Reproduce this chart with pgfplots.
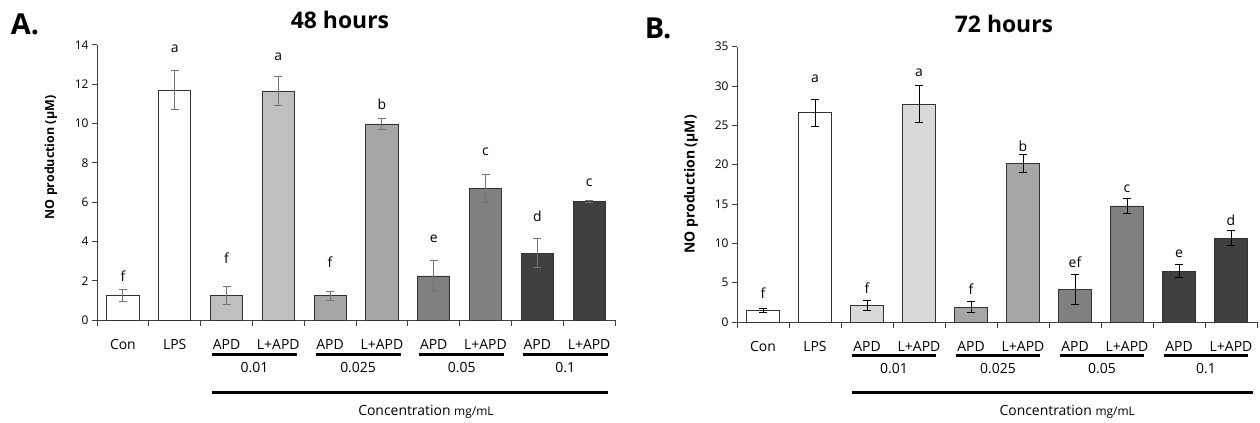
\documentclass[border=0pt]{standalone}
\usepackage{fontspec}
\setmainfont{Open Sans}
\usepackage{pgfplots}
\usepackage{pgfplotstable}
\pgfplotsset{compat=1.18}

\definecolor{gA}{HTML}{BFBFBF}
\definecolor{gAr}{HTML}{D9D9D9}
\definecolor{gB}{HTML}{A6A6A6}
\definecolor{gC}{HTML}{808080}
\definecolor{gD}{HTML}{404040}
\definecolor{edge}{HTML}{333333}

% x: 0 Con, 1 LPS, then APD / L+APD for 0.01, 0.025, 0.05, 0.1
\pgfplotstableread{
x y e ly lab
0 1.24 0.31 2.24 f
1 11.71 0.98 13.80 a
2 1.24 0.45 3.16 f
3 11.66 0.73 13.40 a
4 1.24 0.23 2.95 f
5 9.98 0.29 11.00 b
6 2.24 0.78 4.12 e
7 6.69 0.73 8.55 c
8 3.41 0.73 5.30 d
9 6.02 0.05 6.98 c
}\hfortyeight

\pgfplotstableread{
x y e ly lab
0 1.44 0.28 3.72 f
1 26.60 1.70 30.90 a
2 2.08 0.63 4.28 f
3 27.70 2.35 31.70 a
4 1.90 0.65 4.15 f
5 20.10 1.15 22.40 b
6 4.15 1.90 7.54 ef
7 14.75 0.95 17.00 c
8 6.48 0.87 8.73 e
9 10.64 0.97 12.88 d
}\hseventytwo

\pgfplotsset{
  panel/.style={
    scale only axis, anchor=south west, clip=false,
    xmin=-0.5, xmax=9.5, ymin=0,
    axis x line*=bottom, axis y line*=left,
    axis line style={-, black!75, line width=1bp},
    xtick={0,...,9},
    xticklabels={Con,LPS,APD,L+APD,APD,L+APD,APD,L+APD,APD,L+APD},
    major x tick style={draw=none},
    minor xtick={-0.5,0.5,...,9.5},
    minor x tick style={black!75, line width=1bp},
    minor tick length=6bp,
    major tick length=5bp,
    tick align=outside,
    y tick style={black!75, line width=1bp},
    xticklabel style={font=\fontsize{14}{16}\selectfont, anchor=center, yshift=-20bp},
    yticklabel style={font=\fontsize{12}{14}\selectfont},
    /pgf/number format/assume math mode=true,
    ylabel={NO production (μM)},
  },
  bars/.style 2 args={ybar, bar width=0.62, bar shift=0pt, draw=edge, line width=0.9bp, fill=#1,
    error bars/.cd, y dir=both, y explicit,
    error bar style={#2, line width=1bp},
    error mark options={rotate=90, mark size=4bp, #2, line width=1bp}},
  letters/.style={draw=none, mark=none, nodes near coords, point meta=explicit symbolic,
    nodes near coords align=center,
    nodes near coords style={anchor=center, font=\fontsize{14}{16}\selectfont}},
}

\begin{document}
\begin{tikzpicture}
\useasboundingbox (0,0) rectangle (1260bp,423bp);

\node[font=\bfseries\fontsize{29}{31}\selectfont] at (25bp,399bp) {A.};
\node[font=\bfseries\fontsize{23}{26}\selectfont] at (340bp,403bp) {48 hours};
\node[font=\bfseries\fontsize{29}{31}\selectfont] at (658bp,395bp) {B.};
\node[font=\bfseries\fontsize{23}{26}\selectfont] at (1004bp,399bp) {72 hours};

% ---------- A. 48 hours
\begin{axis}[panel, at={(97bp,103bp)}, width=518bp, height=275bp,
  ymax=14, ytick={0,2,...,14},
  every axis y label/.style={at={(axis description cs:0,0.5)}, xshift=-46bp, yshift=25bp,
    rotate=90, anchor=center, font=\bfseries\fontsize{12.5}{14}\selectfont}]
\addplot[bars={white}{black!55}] table[x=x, y=y, y error=e, restrict x to domain=0:1] {\hfortyeight};
\addplot[bars={gA}{black!55}] table[x=x, y=y, y error=e, restrict x to domain=2:3] {\hfortyeight};
\addplot[bars={gB}{black!55}] table[x=x, y=y, y error=e, restrict x to domain=4:5] {\hfortyeight};
\addplot[bars={gC}{black!55}] table[x=x, y=y, y error=e, restrict x to domain=6:7] {\hfortyeight};
\addplot[bars={gD}{black!55}] table[x=x, y=y, y error=e, restrict x to domain=8:9] {\hfortyeight};
\addplot[letters] table[x=x, y=ly, meta=lab] {\hfortyeight};
\draw[line width=3bp] ([yshift=-34bp]axis cs:1.72,0) -- ([yshift=-34bp]axis cs:3.36,0);
\draw[line width=3bp] ([yshift=-34bp]axis cs:3.72,0) -- ([yshift=-34bp]axis cs:5.36,0);
\draw[line width=3bp] ([yshift=-34bp]axis cs:5.72,0) -- ([yshift=-34bp]axis cs:7.36,0);
\draw[line width=3bp] ([yshift=-34bp]axis cs:7.72,0) -- ([yshift=-34bp]axis cs:9.36,0);
\node[font=\fontsize{14}{16}\selectfont] at ([yshift=-48bp]axis cs:2.54,0) {0.01};
\node[font=\fontsize{14}{16}\selectfont] at ([yshift=-48bp]axis cs:4.54,0) {0.025};
\node[font=\fontsize{14}{16}\selectfont] at ([yshift=-48bp]axis cs:6.54,0) {0.05};
\node[font=\fontsize{14}{16}\selectfont] at ([yshift=-48bp]axis cs:8.54,0) {0.1};
\draw[line width=3bp] ([yshift=-72bp]axis cs:1.72,0) -- ([yshift=-72bp]axis cs:9.36,0);
\node[font=\fontsize{14}{16}\selectfont] at ([yshift=-92bp]axis cs:5.85,0)
  {Concentration {\fontsize{12}{14}\selectfont mg/mL}};
\end{axis}

% ---------- B. 72 hours
\begin{axis}[panel, at={(737bp,101bp)}, width=520bp, height=275.3bp,
  ymax=35, ytick={0,5,...,35},
  every axis y label/.style={at={(axis description cs:0,0.5)}, xshift=-46bp,
    rotate=90, anchor=center, font=\bfseries\fontsize{14}{16}\selectfont}]
\addplot[bars={white}{black}] table[x=x, y=y, y error=e, restrict x to domain=0:1] {\hseventytwo};
\addplot[bars={gAr}{black}] table[x=x, y=y, y error=e, restrict x to domain=2:3] {\hseventytwo};
\addplot[bars={gB}{black}] table[x=x, y=y, y error=e, restrict x to domain=4:5] {\hseventytwo};
\addplot[bars={gC}{black}] table[x=x, y=y, y error=e, restrict x to domain=6:7] {\hseventytwo};
\addplot[bars={gD}{black}] table[x=x, y=y, y error=e, restrict x to domain=8:9] {\hseventytwo};
\addplot[letters] table[x=x, y=ly, meta=lab] {\hseventytwo};
\draw[line width=3bp] ([yshift=-33bp]axis cs:1.71,0) -- ([yshift=-33bp]axis cs:3.33,0);
\draw[line width=3bp] ([yshift=-33bp]axis cs:3.71,0) -- ([yshift=-33bp]axis cs:5.33,0);
\draw[line width=3bp] ([yshift=-33bp]axis cs:5.71,0) -- ([yshift=-33bp]axis cs:7.33,0);
\draw[line width=3bp] ([yshift=-33bp]axis cs:7.71,0) -- ([yshift=-33bp]axis cs:9.33,0);
\node[font=\fontsize{14}{16}\selectfont] at ([yshift=-47bp]axis cs:2.52,0) {0.01};
\node[font=\fontsize{14}{16}\selectfont] at ([yshift=-47bp]axis cs:4.52,0) {0.025};
\node[font=\fontsize{14}{16}\selectfont] at ([yshift=-47bp]axis cs:6.52,0) {0.05};
\node[font=\fontsize{14}{16}\selectfont] at ([yshift=-47bp]axis cs:8.52,0) {0.1};
\draw[line width=3bp] ([yshift=-70bp]axis cs:1.71,0) -- ([yshift=-70bp]axis cs:9.42,0);
\node[font=\fontsize{14}{16}\selectfont] at ([yshift=-90bp]axis cs:5.85,0)
  {Concentration {\fontsize{12}{14}\selectfont mg/mL}};
\end{axis}
\end{tikzpicture}
\end{document}
